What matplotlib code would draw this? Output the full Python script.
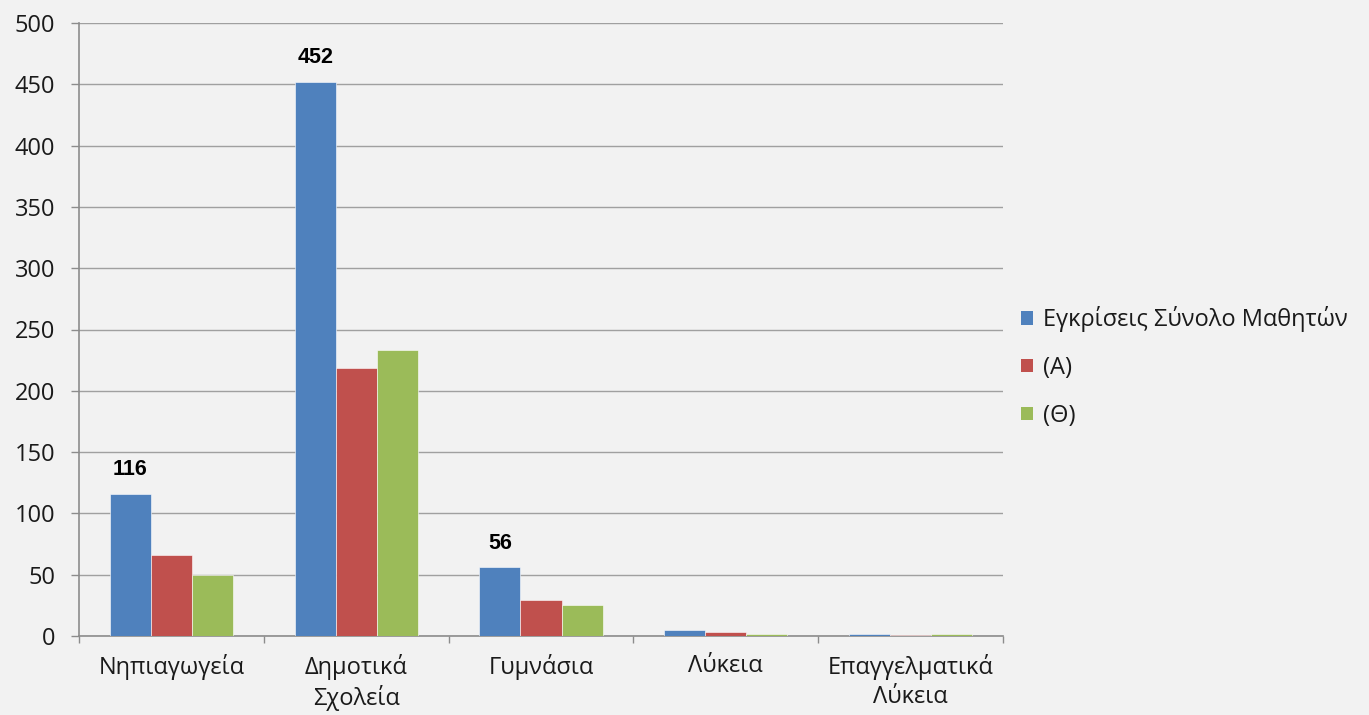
import matplotlib
matplotlib.use("Agg")
import matplotlib.pyplot as plt
import numpy as np
from matplotlib.patches import Patch

categories = ["Νηπιαγωγεία", "Δημοτικά\nΣχολεία", "Γυμνάσια", "Λύκεια", "Επαγγελματικά\nΛύκεια"]
series_names = ["Εγκρίσεις Σύνολο Μαθητών", "(Α)", "(Θ)"]
total = [116, 452, 56, 5, 2]
a_vals = [66, 219, 29, 3, 1]
th_vals = [50, 233, 25, 2, 2]
labels_shown = {0: "116", 1: "452", 2: "56"}
colors = ["#4f81bd", "#c0504d", "#9bbb59"]

plt.rcParams['font.family'] = ['Open Sans', 'DejaVu Sans']

fig = plt.figure(figsize=(13.69, 7.15), dpi=100)
fig.patch.set_facecolor("#f2f2f2")
W, H = 1369, 715
x0, x1, ytop, ybot = 79, 1003, 23, 636
ax = fig.add_axes([x0 / W, (H - ybot) / H, (x1 - x0) / W, (ybot - ytop) / H])
ax.set_facecolor("#f2f2f2")

n = len(categories)
x = np.arange(n)
bw = 1 / 4.5
for i, (vals, c) in enumerate(zip([total, a_vals, th_vals], colors)):
    ax.bar(x + (i - 1) * bw, vals, width=bw, color=c, edgecolor="#ffffff", linewidth=0.4,
           zorder=3, label=series_names[i])

for idx, txt in labels_shown.items():
    ax.text(x[idx] - bw, total[idx] + 11, txt, ha="center", va="bottom",
            fontsize=15.5, fontweight="bold", color="black",
            family=['Liberation Sans', 'DejaVu Sans'])

ax.set_xlim(-0.5, n - 0.5)
ax.set_ylim(0, 500)
ax.set_yticks(np.arange(0, 501, 50))
ax.yaxis.grid(True, color="#a0a0a0", linewidth=1.0, zorder=0)
ax.set_axisbelow(True)

ax.set_xticks(np.arange(-0.5, n, 1.0))
ax.set_xticklabels([])
ax.set_xticks(x, minor=True)
ax.set_xticklabels(categories, minor=True, fontsize=17, color="#1a1a1a", linespacing=1.25)
ax.tick_params(axis="x", which="minor", length=0, pad=13)
ax.tick_params(axis="x", which="major", length=5, color="#8c8c8c", width=1)
ax.tick_params(axis="y", length=6, color="#8c8c8c", width=1, labelsize=17, labelcolor="#1a1a1a", pad=11)

for s in ["top", "right"]:
    ax.spines[s].set_visible(False)
for s in ["left", "bottom"]:
    ax.spines[s].set_color("#8c8c8c")
    ax.spines[s].set_linewidth(1.2)

handles = [Patch(facecolor=c, edgecolor="none") for c in colors]
fig.legend(handles, series_names, loc="upper left",
           bbox_to_anchor=(1012 / W, 1 - 297 / H), frameon=False,
           fontsize=17, handlelength=0.5, handleheight=0.5, handletextpad=0.4,
           labelspacing=1.0, borderaxespad=0, labelcolor="#1a1a1a")

fig.savefig("out.png", dpi=100, facecolor=fig.get_facecolor())
